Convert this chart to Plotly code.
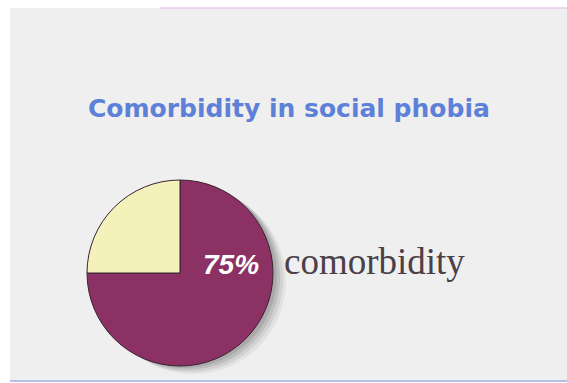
import plotly.graph_objects as go

# Data
labels = ["comorbidity", "no comorbidity"]
values = [75, 25]
colors = ["#8c3163", "#f4f1bb"]
title_text = "Comorbidity in social phobia"

W, H = 567, 383
cx, cy, r = 180, 273, 93

def px(x):
    return x / W

def py(y):
    return 1 - y / H

fig = go.Figure()
fig.add_trace(go.Pie(
    labels=labels, values=values, sort=False, direction="clockwise", rotation=0,
    marker=dict(colors=colors, line=dict(color="#3b2232", width=1)),
    textinfo="none", hoverinfo="label+percent", showlegend=False,
    domain=dict(x=[px(cx - r), px(cx + r)], y=[py(cy + r), py(cy - r)]),
))

shapes = [
    dict(type="rect", xref="paper", yref="paper", x0=px(10), x1=1, y0=py(381), y1=py(8),
         fillcolor="#efefef", line=dict(width=0), layer="below"),
    dict(type="line", xref="paper", yref="paper", x0=px(10), x1=1, y0=py(381), y1=py(381),
         line=dict(color="#b8c0e6", width=2), layer="below"),
    dict(type="line", xref="paper", yref="paper", x0=px(160), x1=1, y0=py(8), y1=py(8),
         line=dict(color="#efc6ec", width=1.5), layer="below"),
]
# soft shadow
for i, (dx, dy, op) in enumerate([(13, 8, 0.10), (10, 6, 0.15), (7, 4, 0.22), (4, 2, 0.28)]):
    shapes.append(dict(type="circle", xref="paper", yref="paper",
                       x0=px(cx - r + dx), x1=px(cx + r + dx), y0=py(cy + r + dy), y1=py(cy - r + dy),
                       fillcolor=f"rgba(120,120,120,{op})", line=dict(width=0), layer="below"))

annotations = [
    dict(text=title_text, x=px(289), y=py(108), xref="paper", yref="paper", showarrow=False,
         font=dict(family="DejaVu Sans", size=25, color="#5d80d8", weight="bold"),
         xanchor="center", yanchor="middle"),
    dict(text=f"<i><b>{values[0]}%</b></i>", x=px(231), y=py(264), xref="paper", yref="paper",
         showarrow=False, font=dict(family="Liberation Sans", size=28, color="white"),
         xanchor="center", yanchor="middle"),
    dict(text=labels[0], x=px(282), y=py(261), xref="paper", yref="paper", showarrow=False,
         font=dict(family="Liberation Serif", size=37, color="#4a4048"),
         xanchor="left", yanchor="middle"),
]

fig.update_layout(
    width=W, height=H, margin=dict(l=0, r=0, t=0, b=0),
    paper_bgcolor="white", plot_bgcolor="white",
    shapes=shapes, annotations=annotations,
)
fig.write_html("out.html")
